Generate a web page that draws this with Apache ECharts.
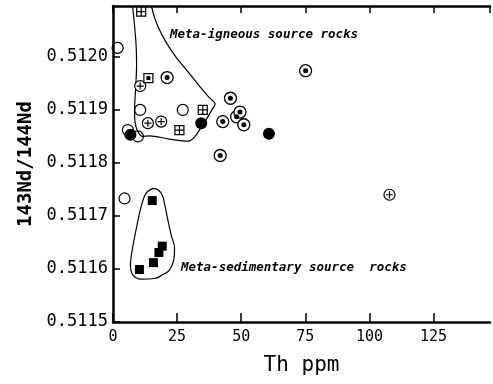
<!DOCTYPE html>
<html>
<head>
<meta charset="utf-8">
<script src="https://cdn.jsdelivr.net/npm/echarts@6/dist/echarts.min.js"></script>
<style>html,body{margin:0;padding:0;background:#fff;}#c{width:493px;height:384px;}</style>
</head>
<body>
<div id="c"></div>
<script>
// ---- data (Th ppm, 143Nd/144Nd) ----
var xTicks = [0, 25, 50, 75, 100, 125];
var yTicks = [0.5115, 0.5116, 0.5117, 0.5118, 0.5119, 0.5120];
var openCircles = [[1.8,0.512017],[10.6,0.5119],[27.2,0.5119],[5.8,0.511862],[9.7,0.51185],[4.5,0.511733]];
var filledCircles = [[6.8,0.511853],[34.4,0.511875],[60.8,0.511855]];
var dotCircles = [[21.1,0.511961],[45.8,0.511922],[42.8,0.511878],[48.2,0.511887],[49.5,0.511896],[51.0,0.511872],[41.8,0.511814],[75.1,0.511974]];
var plusCircles = [[10.6,0.511945],[13.6,0.511875],[18.8,0.511878],[107.8,0.51174]];
var plusSquares = [[11.0,0.5120855],[35.0,0.5119],[25.9,0.511862]];
var dotSquares = [[13.8,0.51196]];
var filledSquares = [[15.3,0.511729],[19.2,0.511643],[17.9,0.511631],[15.8,0.511612],[10.3,0.511599]];
var igneousField = [[7.6,0.512096],[8.2,0.51207],[9.0,0.512023],[9.2,0.511985],[8.8,0.511938],[8.4,0.5119],[8.6,0.511877],[9.6,0.51186],[11.5,0.51185],[14.2,0.511851],[22.0,0.511845],[29.4,0.511841],[31.8,0.511849],[35.7,0.511877],[38.8,0.511902],[39.8,0.511911],[37.6,0.511923],[33.7,0.511945],[28.7,0.511975],[24.8,0.511998],[20.9,0.512026],[18.1,0.512051],[16.2,0.512074],[15.0,0.512096]];
var sedimentaryField = [[15.5,0.511752],[17.7,0.511749],[19.3,0.511738],[20.1,0.511723],[21.4,0.511692],[22.8,0.511662],[24.0,0.51164],[23.7,0.511617],[22.0,0.511598],[19.3,0.511589],[16.2,0.511582],[11.0,0.511581],[7.7,0.511589],[6.8,0.511608],[7.3,0.51163],[9.0,0.511674],[11.0,0.511718],[12.9,0.511743],[15.5,0.511752]];
var labelIgneous = 'Meta-igneous source rocks';
var labelSedimentary = 'Meta-sedimentary source  rocks';

var PLUS = 'path://M5,0 L5,10 M0,5 L10,5';
var mono = 'DejaVu Sans Mono';
var chart = echarts.init(document.getElementById('c'));
function sc(data, symbol, size, fill, bw, z) {
  return {type:'scatter', data:data, symbol:symbol, symbolSize:size, z:z||3,
    itemStyle:{color:fill, borderColor:'#000', borderWidth:bw, opacity:1}, emphasis:{disabled:true}, silent:true};
}
chart.setOption({
  animation:false,
  grid:{left:113, right:3, top:6, bottom:62, containLabel:false},
  xAxis:[{
    type:'value', min:0, max:147, interval:25, position:'bottom',
    name:'Th ppm', nameLocation:'middle', nameGap:33,
    nameTextStyle:{fontFamily:mono, fontSize:21, color:'#000'},
    axisLine:{show:true, lineStyle:{color:'#000', width:2.5}},
    axisTick:{show:true, inside:true, length:9, lineStyle:{color:'#000', width:1.5}},
    axisLabel:{margin:8, fontFamily:mono, fontSize:15, color:'#000', showMaxLabel:false,
      formatter:function(v){ return xTicks.indexOf(v) >= 0 ? String(v) : ''; }},
    splitLine:{show:false}
  },{
    type:'value', min:0, max:147, interval:25, position:'top',
    axisLine:{show:true, lineStyle:{color:'#000', width:2.5}},
    axisTick:{show:true, inside:true, length:7, lineStyle:{color:'#000', width:1.5}},
    axisLabel:{show:false}, splitLine:{show:false}
  }],
  yAxis:{
    type:'value', min:0.5115, max:0.512096, interval:0.0001,
    name:'143Nd/144Nd', nameLocation:'middle', nameGap:75,
    nameTextStyle:{fontFamily:mono, fontSize:19, fontWeight:'bold', color:'#000'},
    axisLine:{show:true, lineStyle:{color:'#000', width:2.5}},
    axisTick:{show:true, inside:true, length:7, lineStyle:{color:'#000', width:1.5}},
    axisLabel:{margin:5, fontFamily:mono, fontSize:17, color:'#000', showMaxLabel:false,
      formatter:function(v){ return v.toFixed(4); }},
    splitLine:{show:false}
  },
  series:[
    {type:'line', data:igneousField, smooth:0.3, symbol:'none', lineStyle:{color:'#000', width:1.2}, silent:true, z:2},
    {type:'line', data:sedimentaryField, smooth:0.4, symbol:'none', lineStyle:{color:'#000', width:1.2}, silent:true, z:2},
    sc(openCircles, 'circle', 11, 'rgba(0,0,0,0)', 1.2, 3),
    sc(filledCircles, 'circle', 12, '#000', 0, 4),
    sc(dotCircles, 'circle', 12, '#fff', 1.3, 5),
    sc(dotCircles, 'circle', 5, '#000', 0, 6),
    sc(plusCircles, 'circle', 11, '#fff', 1.2, 5),
    sc(plusCircles, PLUS, 7, 'rgba(0,0,0,0)', 1.2, 6),
    sc(plusSquares, 'rect', 9, '#fff', 1.2, 5),
    sc(plusSquares, PLUS, 9, 'rgba(0,0,0,0)', 1.2, 6),
    sc(dotSquares, 'rect', 9, '#fff', 1.2, 5),
    sc(dotSquares, 'rect', 4, '#000', 0, 6),
    sc(filledSquares, 'rect', 9, '#000', 0, 5)
  ],
  graphic:[
    {type:'text', left:170, top:28, style:{text:labelIgneous, font:'italic bold 12.5px "DejaVu Sans Mono"', fill:'#000'}},
    {type:'text', left:181, top:261, style:{text:labelSedimentary, font:'italic bold 12.5px "DejaVu Sans Mono"', fill:'#000'}}
  ]
});
</script>
</body>
</html>
